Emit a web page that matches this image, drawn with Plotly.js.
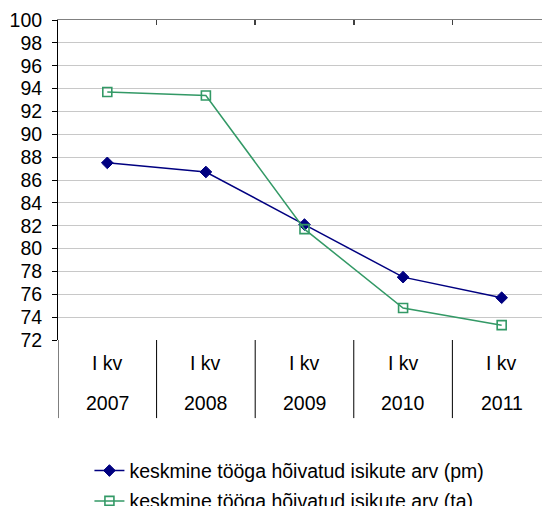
<!DOCTYPE html>
<html><head><meta charset="utf-8">
<script src="https://cdn.plot.ly/plotly-3.0.1.min.js"></script>
<style>html,body{margin:0;padding:0;background:#fff;}#chart{width:542px;height:506px;}</style>
</head><body><div id="chart"></div>
<script>
var quarters = ["I kv","I kv","I kv","I kv","I kv"];
var years = ["2007","2008","2009","2010","2011"];
var seriesPmName = "keskmine tööga hõivatud isikute arv (pm)";
var seriesTaName = "keskmine tööga hõivatud isikute arv (ta)";
var seriesPm = [87.5, 86.7, 82.1, 77.5, 75.7];
var seriesTa = [93.7, 93.4, 81.7, 74.8, 73.3];
var yTicks = [72,74,76,78,80,82,84,86,88,90,92,94,96,98,100];

var idx = years.map(function(_, i){ return i; });
var FONT = "Liberation Sans, Arial, sans-serif";

var traces = [
  {x: idx, y: seriesPm, name: seriesPmName, type: "scatter", mode: "lines+markers",
   legendgroup: "pm",
   line: {color: "#000080", width: 1.5},
   marker: {symbol: "diamond", size: 9, color: "#000080", line: {color: "#000080", width: 1}}},
  {x: idx, y: seriesTa, name: seriesTaName, type: "scatter", mode: "lines+markers",
   legendgroup: "ta",
   line: {color: "#339966", width: 1.5},
   marker: {symbol: "square-open", size: 9, color: "#339966", line: {color: "#339966", width: 1.6}}},
  {x: [0.5,1.5,2.5,3.5], y: [100,100,100,100], xaxis: "x2", type: "scatter", mode: "none",
   showlegend: false, hoverinfo: "skip"}
];

var shapes = [];
for (var i = 0; i <= years.length; i++) {
  shapes.push({type: "line", xref: "x", yref: "paper", x0: i - 0.5, x1: i - 0.5,
    y0: 0, y1: -0.244, line: {color: "#000000", width: 1}});
}
var annotations = [];
years.forEach(function(yr, i){
  annotations.push({x: i, y: 0, xref: "x", yref: "paper", text: quarters[i], showarrow: false,
    yanchor: "middle", yshift: -23, font: {family: FONT, size: 19.5, color: "#000"}});
  annotations.push({x: i, y: 0, xref: "x", yref: "paper", text: yr, showarrow: false,
    yanchor: "middle", yshift: -63, font: {family: FONT, size: 19.5, color: "#000"}});
});

var range = [-0.5, 4.409];
var layout = {
  width: 542, height: 506,
  margin: {l: 58, r: 0, t: 20, b: 166, pad: 0, autoexpand: false},
  paper_bgcolor: "#fff", plot_bgcolor: "#fff",
  font: {family: FONT, size: 19.5, color: "#000"},
  showlegend: true,
  legend: {x: 0.165, y: 0.108, xanchor: "left", yanchor: "top", xref: "container", yref: "container",
    bgcolor: "rgba(0,0,0,0)", font: {family: FONT, size: 19.5, color: "#000"}, itemwidth: 30,
    traceorder: "grouped", tracegroupgap: 2},
  xaxis: {range: range, showgrid: false, zeroline: false, showline: false, ticks: "",
    showticklabels: false, fixedrange: true},
  xaxis2: {range: range, overlaying: "x", side: "top", showgrid: false, zeroline: false,
    showline: true, linecolor: "#808080", linewidth: 1.5, ticks: "inside", ticklen: 5,
    tickcolor: "#404040", tickwidth: 1.5, tickmode: "array", tickvals: [0.5,1.5,2.5,3.5],
    showticklabels: false},
  yaxis: {range: [72, 100], tickmode: "array", tickvals: yTicks, ticktext: yTicks.map(String),
    showgrid: true, gridcolor: "#c8c8c8", gridwidth: 1, zeroline: false,
    showline: true, linecolor: "#000", linewidth: 1, ticks: "outside", ticklen: 5,
    tickcolor: "#000", ticklabelstandoff: 6, tickfont: {family: FONT, size: 19.5, color: "#000"}},
  shapes: shapes, annotations: annotations
};
Plotly.newPlot("chart", traces, layout, {staticPlot: true, displayModeBar: false});
</script></body></html>
